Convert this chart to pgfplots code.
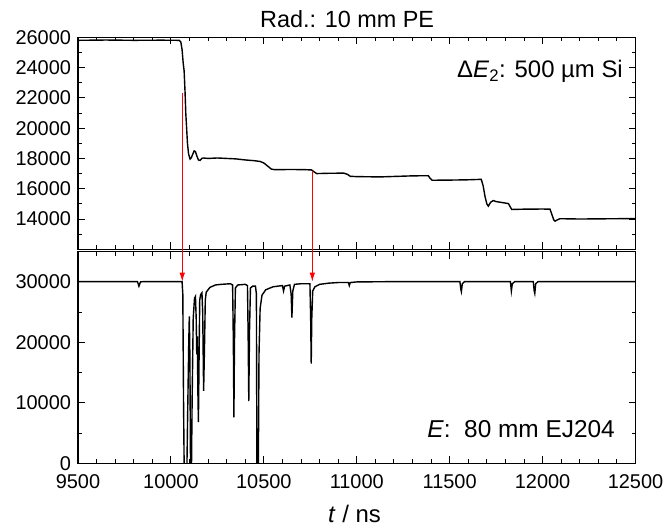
\documentclass[border=0pt]{standalone}
\usepackage{fontspec}
\setmainfont{Liberation Sans}
\usepackage{pgfplots}
\usepackage{pgfplotstable}
\pgfplotsset{compat=1.18}
\usetikzlibrary{arrows.meta}

\pgfplotstableread{
t v
9500 25800
9650 25820
9800 25800
9950 25810
10045 25800
10053 25700
10060 25200
10066 24300
10071 23800
10076 22400
10080 21000
10085 19900
10089 19000
10095 18300
10103 17960
10110 18050
10118 18300
10125 18500
10132 18450
10140 18150
10148 17900
10157 17870
10166 18000
10175 18030
10200 18000
10250 18030
10300 18000
10350 17970
10400 17900
10450 17850
10480 17800
10500 17700
10520 17500
10540 17300
10557 17260
10650 17270
10720 17260
10757 17240
10770 17120
10784 17000
10850 17020
10930 17030
10950 16950
10965 16820
11000 16800
11125 16780
11250 16830
11300 16850
11385 16860
11394 16700
11405 16560
11500 16570
11600 16590
11670 16620
11680 16200
11690 15500
11700 15000
11708 14850
11720 15100
11735 15220
11750 15150
11771 15110
11816 15020
11826 14800
11834 14630
11900 14650
12000 14660
12040 14650
12050 14300
12060 13950
12067 13860
12080 13950
12094 14020
12200 14000
12300 14010
12400 14020
12500 14030
}\topdata

\pgfplotstableread{
t v
9500 30050
9700 30050
9820 30050
9828 29300
9836 30000
9850 30050
10000 30050
10060 30050
10064 28000
10068 10000
10072 -3000
10085 -3000
10090 8000
10096 20000
10099 24300
10102 18000
10106 -3000
10110 -3000
10114 10000
10120 24000
10127 27300
10132 27600
10136 24000
10139 18000
10142 21000
10145 12000
10148 6800
10151 16000
10155 27000
10160 27900
10167 28200
10171 25000
10176 12000
10180 18000
10185 27000
10190 28300
10210 29100
10240 29500
10270 29600
10320 29700
10332 29500
10336 20000
10339 7600
10342 20000
10347 29000
10360 29500
10400 29600
10412 29400
10416 20000
10419 10300
10423 22000
10428 29000
10440 29300
10455 29300
10460 28000
10463 -3000
10470 -3000
10474 18000
10480 25600
10490 27800
10510 28700
10550 29200
10600 29400
10606 28500
10612 29300
10640 29500
10647 28000
10651 24100
10656 28500
10665 29600
10700 29700
10748 29700
10752 24000
10755 16500
10758 24000
10763 28500
10775 29200
10800 29600
10850 29800
10900 29900
10955 29900
10960 29400
10965 29900
11000 30000
11200 30050
11400 30050
11555 30050
11560 28800
11563 28400
11568 29700
11580 30050
11800 30050
11827 30050
11832 28500
11837 29700
11850 30050
11950 30050
11955 28500
11958 28100
11963 29700
11975 30050
12200 30050
12500 30050
}\botdata

\pgfplotsset{
  panel/.style={
    scale only axis,
    width=557.5bp,
    xmin=9500, xmax=12500,
    xtick={9500,10000,...,12500},
    minor x tick num=4,
    tick align=inside,
    axis line style={line width=1.2bp},
    every tick/.style={black, line width=1bp},
    major tick length=7bp,
    minor tick length=4bp,
    scaled ticks=false,
    /pgf/number format/1000 sep={},
    /pgf/number format/assume math mode=true,
    tick label style={font=\fontsize{20}{22}\selectfont},
    yticklabel style={xshift=-3.5bp},
    xticklabel style={yshift=-7.5bp},
  }
}

\begin{document}
\begin{tikzpicture}
\path[use as bounding box] (-78bp,-65.7bp) rectangle (589bp,463.3bp);
\begin{axis}[panel,
  at={(0,0)}, anchor=south west,
  height=211.6bp,
  ymin=0, ymax=35000,
  ytick={0,10000,20000,30000},
  minor ytick={5000,15000,25000},
]
\addplot[black, line width=1.4bp] table[x=t,y=v] {\botdata};
\coordinate (b1) at (axis cs:10061,30050);
\coordinate (b2) at (axis cs:10761,30050);
\end{axis}
\begin{axis}[panel,
  at={(0,214bp)}, anchor=south west,
  height=212bp,
  ymin=12000, ymax=26000,
  ytick={14000,16000,...,26000},
  minor ytick={13000,15000,...,25000},
  xticklabels={},
]
\addplot[black, line width=1.4bp] table[x=t,y=v] {\topdata};
\coordinate (a1) at (axis cs:10061,22300);
\coordinate (a2) at (axis cs:10761,17150);
\end{axis}
\draw[red, line width=0.9bp, -{Latex[length=9bp,width=5.5bp]}] (a1) -- (b1);
\draw[red, line width=0.9bp, -{Latex[length=9bp,width=5.5bp]}] (a2) -- (b2);
\node[anchor=base west, inner sep=0, font=\fontsize{23.5}{26}\selectfont] at (182bp,435.3bp) {Rad.: 10 mm PE};
\node[anchor=base east, inner sep=0, font=\fontsize{24}{26}\selectfont] at (545bp,385.3bp) {Δ\textit{E}\textsubscript{2}: 500 µm Si};
\node[anchor=base east, inner sep=0, font=\fontsize{24.5}{26}\selectfont] at (537bp,26.3bp) {\textit{E}:\ \ 80 mm EJ204};
\node[anchor=base, inner sep=0, font=\fontsize{24}{26}\selectfont] at (276.5bp,-59bp) {\textit{t} / ns};
\end{tikzpicture}
\end{document}
